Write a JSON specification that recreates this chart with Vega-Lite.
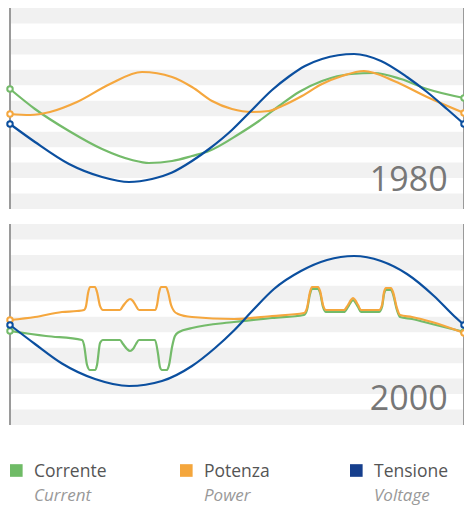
{
 "$schema": "https://vega.github.io/schema/vega-lite/v6.json",
 "padding": {"left": 3, "top": 7, "right": 0, "bottom": 0},
 "bounds": "flush",
 "spacing": 15,
 "background": "white",
 "config": {"view": {"stroke": null}, "font": "Open Sans"},
 "resolve": {"scale": {"x": "independent", "y": "independent", "color": "independent", "stroke": "independent"}},
 "datasets": {
  "strisce": [{"da":85.0,"a":100.5},{"da":54.1,"a":69.6},{"da":23.2,"a":38.7},{"da":-7.7,"a":7.7},{"da":-38.7,"a":-23.2},{"da":-69.6,"a":-54.1},{"da":-100.5,"a":-85.0}],
  "bordi": [{"fase":0},{"fase":360}],
  "anni": [{"anno":"1980"},{"anno":"2000"}],
  "legenda": [{"serie":"Corrente","inglese":"Current"},{"serie":"Potenza","inglese":"Power"},{"serie":"Tensione","inglese":"Voltage"}],
  "linee": [
   {"anno":1980,"serie":"Corrente","fase":0,"valore":19.5},
   {"anno":1980,"serie":"Corrente","fase":19.8,"valore":-0.5},
   {"anno":1980,"serie":"Corrente","fase":46.8,"valore":-22.5},
   {"anno":1980,"serie":"Corrente","fase":73.0,"valore":-40.5},
   {"anno":1980,"serie":"Corrente","fase":96.7,"valore":-51.5},
   {"anno":1980,"serie":"Corrente","fase":110.2,"valore":-54.5},
   {"anno":1980,"serie":"Corrente","fase":128.5,"valore":-52.5},
   {"anno":1980,"serie":"Corrente","fase":144.3,"valore":-47.5},
   {"anno":1980,"serie":"Corrente","fase":157.8,"valore":-42.5},
   {"anno":1980,"serie":"Corrente","fase":181.6,"valore":-25.5},
   {"anno":1980,"serie":"Corrente","fase":197.4,"valore":-12.5},
   {"anno":1980,"serie":"Corrente","fase":213.3,"valore":2.5},
   {"anno":1980,"serie":"Corrente","fase":229.2,"valore":16.5},
   {"anno":1980,"serie":"Corrente","fase":247.4,"valore":27.5},
   {"anno":1980,"serie":"Corrente","fase":270.4,"valore":34.5},
   {"anno":1980,"serie":"Corrente","fase":288.6,"valore":35.5},
   {"anno":1980,"serie":"Corrente","fase":310.0,"valore":29.5},
   {"anno":1980,"serie":"Corrente","fase":330.7,"valore":19.5},
   {"anno":1980,"serie":"Corrente","fase":360,"valore":10.5},
   {"anno":1980,"serie":"Potenza","fase":0,"valore":-5.5},
   {"anno":1980,"serie":"Potenza","fase":15.9,"valore":-6.5},
   {"anno":1980,"serie":"Potenza","fase":31.7,"valore":-3.5},
   {"anno":1980,"serie":"Potenza","fase":53.1,"valore":6.5},
   {"anno":1980,"serie":"Potenza","fase":79.3,"valore":24.5},
   {"anno":1980,"serie":"Potenza","fase":104.7,"valore":36.5},
   {"anno":1980,"serie":"Potenza","fase":128.5,"valore":31.5},
   {"anno":1980,"serie":"Potenza","fase":144.3,"valore":21.5},
   {"anno":1980,"serie":"Potenza","fase":160.2,"valore":7.5},
   {"anno":1980,"serie":"Potenza","fase":176.0,"valore":-0.5},
   {"anno":1980,"serie":"Potenza","fase":191.9,"valore":-3.5},
   {"anno":1980,"serie":"Potenza","fase":205.4,"valore":-2.5},
   {"anno":1980,"serie":"Potenza","fase":215.7,"valore":2.5},
   {"anno":1980,"serie":"Potenza","fase":231.5,"valore":12.5},
   {"anno":1980,"serie":"Potenza","fase":247.4,"valore":24.5},
   {"anno":1980,"serie":"Potenza","fase":263.3,"valore":32.5},
   {"anno":1980,"serie":"Potenza","fase":280.7,"valore":37.5},
   {"anno":1980,"serie":"Potenza","fase":304.5,"valore":27.5},
   {"anno":1980,"serie":"Potenza","fase":330.7,"valore":11.5},
   {"anno":1980,"serie":"Potenza","fase":360,"valore":-4.5},
   {"anno":1980,"serie":"Tensione","fase":0,"valore":-15.5},
   {"anno":1980,"serie":"Tensione","fase":19.8,"valore":-33.5},
   {"anno":1980,"serie":"Tensione","fase":46.8,"valore":-55.5},
   {"anno":1980,"serie":"Tensione","fase":73.0,"valore":-68.5},
   {"anno":1980,"serie":"Tensione","fase":94.4,"valore":-73.5},
   {"anno":1980,"serie":"Tensione","fase":112.6,"valore":-70.5},
   {"anno":1980,"serie":"Tensione","fase":128.5,"valore":-64},
   {"anno":1980,"serie":"Tensione","fase":144.3,"valore":-52.5},
   {"anno":1980,"serie":"Tensione","fase":157.8,"valore":-40.5},
   {"anno":1980,"serie":"Tensione","fase":176.0,"valore":-21.5},
   {"anno":1980,"serie":"Tensione","fase":189.5,"valore":-4.5},
   {"anno":1980,"serie":"Tensione","fase":207.8,"valore":18.5},
   {"anno":1980,"serie":"Tensione","fase":221.2,"valore":32},
   {"anno":1980,"serie":"Tensione","fase":233.9,"valore":42.5},
   {"anno":1980,"serie":"Tensione","fase":247.4,"valore":49.5},
   {"anno":1980,"serie":"Tensione","fase":272.8,"valore":54.5},
   {"anno":1980,"serie":"Tensione","fase":294.2,"valore":47.5},
   {"anno":1980,"serie":"Tensione","fase":314.8,"valore":31.5},
   {"anno":1980,"serie":"Tensione","fase":330.7,"valore":16.5},
   {"anno":1980,"serie":"Tensione","fase":346.5,"valore":-0.5},
   {"anno":1980,"serie":"Tensione","fase":360,"valore":-15.5},
   {"anno":2000,"serie":"Corrente","fase":0,"valore":-6.5},
   {"anno":2000,"serie":"Corrente","fase":28.5,"valore":-11.5},
   {"anno":2000,"serie":"Corrente","fase":57.1,"valore":-15.5},
   {"anno":2000,"serie":"Corrente","fase":58.7,"valore":-20.5},
   {"anno":2000,"serie":"Corrente","fase":61.1,"valore":-40.5},
   {"anno":2000,"serie":"Corrente","fase":63.4,"valore":-45.5},
   {"anno":2000,"serie":"Corrente","fase":67.4,"valore":-45.5},
   {"anno":2000,"serie":"Corrente","fase":69.0,"valore":-40.5},
   {"anno":2000,"serie":"Corrente","fase":71.4,"valore":-18.5},
   {"anno":2000,"serie":"Corrente","fase":73.7,"valore":-15.5},
   {"anno":2000,"serie":"Corrente","fase":87.2,"valore":-15.5},
   {"anno":2000,"serie":"Corrente","fase":89.6,"valore":-19.5},
   {"anno":2000,"serie":"Corrente","fase":92.8,"valore":-24.5},
   {"anno":2000,"serie":"Corrente","fase":95.2,"valore":-26.5},
   {"anno":2000,"serie":"Corrente","fase":97.5,"valore":-24.5},
   {"anno":2000,"serie":"Corrente","fase":99.9,"valore":-19.5},
   {"anno":2000,"serie":"Corrente","fase":102.3,"valore":-15.5},
   {"anno":2000,"serie":"Corrente","fase":115.0,"valore":-15.5},
   {"anno":2000,"serie":"Corrente","fase":117.4,"valore":-29.5},
   {"anno":2000,"serie":"Corrente","fase":118.9,"valore":-42.5},
   {"anno":2000,"serie":"Corrente","fase":120.5,"valore":-45.5},
   {"anno":2000,"serie":"Corrente","fase":124.5,"valore":-45.5},
   {"anno":2000,"serie":"Corrente","fase":126.1,"valore":-40.5},
   {"anno":2000,"serie":"Corrente","fase":128.5,"valore":-22.5},
   {"anno":2000,"serie":"Corrente","fase":130.8,"valore":-11.5},
   {"anno":2000,"serie":"Corrente","fase":134.0,"valore":-7.5},
   {"anno":2000,"serie":"Corrente","fase":144.3,"valore":-3.5},
   {"anno":2000,"serie":"Corrente","fase":177.6,"valore":2.5},
   {"anno":2000,"serie":"Corrente","fase":207.8,"valore":6.5},
   {"anno":2000,"serie":"Corrente","fase":233.1,"valore":9.5},
   {"anno":2000,"serie":"Corrente","fase":235.5,"valore":14.5},
   {"anno":2000,"serie":"Corrente","fase":237.9,"valore":30.5},
   {"anno":2000,"serie":"Corrente","fase":239.5,"valore":35.5},
   {"anno":2000,"serie":"Corrente","fase":244.3,"valore":35.5},
   {"anno":2000,"serie":"Corrente","fase":245.9,"valore":31.5},
   {"anno":2000,"serie":"Corrente","fase":248.2,"valore":17.5},
   {"anno":2000,"serie":"Corrente","fase":250.6,"valore":12.5},
   {"anno":2000,"serie":"Corrente","fase":264.8,"valore":12.5},
   {"anno":2000,"serie":"Corrente","fase":268.0,"valore":17.5},
   {"anno":2000,"serie":"Corrente","fase":270.4,"valore":22.5},
   {"anno":2000,"serie":"Corrente","fase":272.0,"valore":24.5},
   {"anno":2000,"serie":"Corrente","fase":273.6,"valore":22.5},
   {"anno":2000,"serie":"Corrente","fase":276.0,"valore":17.5},
   {"anno":2000,"serie":"Corrente","fase":278.3,"valore":12.5},
   {"anno":2000,"serie":"Corrente","fase":292.6,"valore":12.5},
   {"anno":2000,"serie":"Corrente","fase":295.0,"valore":17.5},
   {"anno":2000,"serie":"Corrente","fase":296.6,"valore":30.5},
   {"anno":2000,"serie":"Corrente","fase":298.1,"valore":34.5},
   {"anno":2000,"serie":"Corrente","fase":302.1,"valore":34.5},
   {"anno":2000,"serie":"Corrente","fase":303.7,"valore":30.5},
   {"anno":2000,"serie":"Corrente","fase":306.8,"valore":14.5},
   {"anno":2000,"serie":"Corrente","fase":309.3,"valore":7.5},
   {"anno":2000,"serie":"Corrente","fase":318.8,"valore":5.5},
   {"anno":2000,"serie":"Corrente","fase":334.6,"valore":0.5},
   {"anno":2000,"serie":"Corrente","fase":360,"valore":-7.5},
   {"anno":2000,"serie":"Potenza","fase":0,"valore":4.5},
   {"anno":2000,"serie":"Potenza","fase":19.8,"valore":7.5},
   {"anno":2000,"serie":"Potenza","fase":41.2,"valore":12.5},
   {"anno":2000,"serie":"Potenza","fase":53.1,"valore":13.5},
   {"anno":2000,"serie":"Potenza","fase":58.7,"valore":14.5},
   {"anno":2000,"serie":"Potenza","fase":60.3,"valore":18.5},
   {"anno":2000,"serie":"Potenza","fase":61.9,"valore":31.5},
   {"anno":2000,"serie":"Potenza","fase":63.4,"valore":37.5},
   {"anno":2000,"serie":"Potenza","fase":67.4,"valore":37.5},
   {"anno":2000,"serie":"Potenza","fase":69.0,"valore":32.5},
   {"anno":2000,"serie":"Potenza","fase":71.4,"valore":18.5},
   {"anno":2000,"serie":"Potenza","fase":73.7,"valore":14.5},
   {"anno":2000,"serie":"Potenza","fase":87.2,"valore":14.5},
   {"anno":2000,"serie":"Potenza","fase":89.6,"valore":18.5},
   {"anno":2000,"serie":"Potenza","fase":92.8,"valore":23.5},
   {"anno":2000,"serie":"Potenza","fase":95.2,"valore":25.5},
   {"anno":2000,"serie":"Potenza","fase":97.5,"valore":23.5},
   {"anno":2000,"serie":"Potenza","fase":99.9,"valore":18.5},
   {"anno":2000,"serie":"Potenza","fase":102.3,"valore":14.5},
   {"anno":2000,"serie":"Potenza","fase":115.0,"valore":14.5},
   {"anno":2000,"serie":"Potenza","fase":116.6,"valore":19.5},
   {"anno":2000,"serie":"Potenza","fase":118.1,"valore":31.5},
   {"anno":2000,"serie":"Potenza","fase":119.7,"valore":37.5},
   {"anno":2000,"serie":"Potenza","fase":123.7,"valore":37.5},
   {"anno":2000,"serie":"Potenza","fase":125.3,"valore":32.5},
   {"anno":2000,"serie":"Potenza","fase":127.7,"valore":19.5},
   {"anno":2000,"serie":"Potenza","fase":130.0,"valore":13.5},
   {"anno":2000,"serie":"Potenza","fase":133.2,"valore":10.5},
   {"anno":2000,"serie":"Potenza","fase":144.3,"valore":7.5},
   {"anno":2000,"serie":"Potenza","fase":177.6,"valore":5.5},
   {"anno":2000,"serie":"Potenza","fase":207.8,"valore":8.5},
   {"anno":2000,"serie":"Potenza","fase":233.1,"valore":11.5},
   {"anno":2000,"serie":"Potenza","fase":235.5,"valore":16.5},
   {"anno":2000,"serie":"Potenza","fase":237.9,"valore":32.5},
   {"anno":2000,"serie":"Potenza","fase":239.5,"valore":37.5},
   {"anno":2000,"serie":"Potenza","fase":244.3,"valore":37.5},
   {"anno":2000,"serie":"Potenza","fase":245.9,"valore":33.5},
   {"anno":2000,"serie":"Potenza","fase":248.2,"valore":19.5},
   {"anno":2000,"serie":"Potenza","fase":250.6,"valore":14.5},
   {"anno":2000,"serie":"Potenza","fase":264.8,"valore":14.5},
   {"anno":2000,"serie":"Potenza","fase":268.0,"valore":19.5},
   {"anno":2000,"serie":"Potenza","fase":270.4,"valore":24.5},
   {"anno":2000,"serie":"Potenza","fase":272.0,"valore":26.5},
   {"anno":2000,"serie":"Potenza","fase":273.6,"valore":24.5},
   {"anno":2000,"serie":"Potenza","fase":276.0,"valore":19.5},
   {"anno":2000,"serie":"Potenza","fase":278.3,"valore":14.5},
   {"anno":2000,"serie":"Potenza","fase":292.6,"valore":14.5},
   {"anno":2000,"serie":"Potenza","fase":295.0,"valore":19.5},
   {"anno":2000,"serie":"Potenza","fase":296.6,"valore":32.5},
   {"anno":2000,"serie":"Potenza","fase":298.1,"valore":36.5},
   {"anno":2000,"serie":"Potenza","fase":302.1,"valore":36.5},
   {"anno":2000,"serie":"Potenza","fase":303.7,"valore":32.5},
   {"anno":2000,"serie":"Potenza","fase":306.8,"valore":16.5},
   {"anno":2000,"serie":"Potenza","fase":309.3,"valore":9.5},
   {"anno":2000,"serie":"Potenza","fase":318.8,"valore":7.5},
   {"anno":2000,"serie":"Potenza","fase":334.6,"valore":2.5},
   {"anno":2000,"serie":"Potenza","fase":360,"valore":-8.5},
   {"anno":2000,"serie":"Tensione","fase":0,"valore":-0.5},
   {"anno":2000,"serie":"Tensione","fase":19.8,"valore":-19.5},
   {"anno":2000,"serie":"Tensione","fase":41.2,"valore":-39},
   {"anno":2000,"serie":"Tensione","fase":67.4,"valore":-54.5},
   {"anno":2000,"serie":"Tensione","fase":94.4,"valore":-61.5},
   {"anno":2000,"serie":"Tensione","fase":120.5,"valore":-56.5},
   {"anno":2000,"serie":"Tensione","fase":144.3,"valore":-41.5},
   {"anno":2000,"serie":"Tensione","fase":162.6,"valore":-23.5},
   {"anno":2000,"serie":"Tensione","fase":177.6,"valore":-6},
   {"anno":2000,"serie":"Tensione","fase":193.5,"valore":15.5},
   {"anno":2000,"serie":"Tensione","fase":209.3,"valore":35.5},
   {"anno":2000,"serie":"Tensione","fase":230.7,"valore":53.5},
   {"anno":2000,"serie":"Tensione","fase":251.4,"valore":64.5},
   {"anno":2000,"serie":"Tensione","fase":272.8,"valore":68.5},
   {"anno":2000,"serie":"Tensione","fase":294.2,"valore":63.5},
   {"anno":2000,"serie":"Tensione","fase":314.8,"valore":50.5},
   {"anno":2000,"serie":"Tensione","fase":336.2,"valore":28.5},
   {"anno":2000,"serie":"Tensione","fase":352.1,"valore":8.5},
   {"anno":2000,"serie":"Tensione","fase":360,"valore":-0.5}
  ]
 },
 "vconcat": [
  {
   "width": 454, "height": 201,
   "layer": [
    {"data": {"name": "strisce"}, "mark": {"type": "rect", "color": "#f1f1f1"},
     "encoding": {
      "x": {"datum": 0, "type": "quantitative", "scale": {"domain": [0, 360], "nice": false, "zero": false}, "axis": null},
      "x2": {"datum": 360},
      "y": {"field": "da", "type": "quantitative", "scale": {"domain": [-100.5, 100.5], "nice": false, "zero": false}, "axis": null},
      "y2": {"field": "a"}}},
    {"data": {"name": "bordi"}, "mark": {"type": "rule", "color": "#9a9a9a", "strokeWidth": 2},
     "encoding": {"x": {"field": "fase", "type": "quantitative"}}},
    {"data": {"name": "anni"}, "transform": [{"filter": "datum.anno == '1980'"}],
     "mark": {"type": "text", "align": "right", "baseline": "alphabetic", "font": "Open Sans", "fontSize": 34, "color": "#777777"},
     "encoding": {"x": {"datum": 347, "type": "quantitative"}, "y": {"datum": -82.5, "type": "quantitative"}, "text": {"field": "anno", "type": "nominal"}}},
    {"data": {"name": "linee"}, "transform": [{"filter": "datum.anno == 1980"}],
     "mark": {"type": "line", "interpolate": "monotone", "strokeWidth": 2.2},
     "encoding": {
      "x": {"field": "fase", "type": "quantitative"},
      "y": {"field": "valore", "type": "quantitative"},
      "color": {"field": "serie", "type": "nominal", "scale": {"domain": ["Corrente", "Potenza", "Tensione"], "range": ["#74bb6a", "#f5a73e", "#0b4f9f"]}, "legend": null}}},
    {"data": {"name": "linee"}, "transform": [{"filter": "datum.anno == 1980 && (datum.fase == 0 || datum.fase == 360)"}],
     "mark": {"type": "circle", "size": 30, "fill": "white", "strokeWidth": 2, "opacity": 1},
     "encoding": {
      "x": {"field": "fase", "type": "quantitative"},
      "y": {"field": "valore", "type": "quantitative"},
      "stroke": {"field": "serie", "type": "nominal", "scale": {"domain": ["Corrente", "Potenza", "Tensione"], "range": ["#74bb6a", "#f5a73e", "#0b4f9f"]}, "legend": null}}}
   ]
  },
  {
   "width": 454, "height": 201,
   "layer": [
    {"data": {"name": "strisce"}, "mark": {"type": "rect", "color": "#f1f1f1"},
     "encoding": {
      "x": {"datum": 0, "type": "quantitative", "scale": {"domain": [0, 360], "nice": false, "zero": false}, "axis": null},
      "x2": {"datum": 360},
      "y": {"field": "da", "type": "quantitative", "scale": {"domain": [-100.5, 100.5], "nice": false, "zero": false}, "axis": null},
      "y2": {"field": "a"}}},
    {"data": {"name": "bordi"}, "mark": {"type": "rule", "color": "#9a9a9a", "strokeWidth": 2},
     "encoding": {"x": {"field": "fase", "type": "quantitative"}}},
    {"data": {"name": "anni"}, "transform": [{"filter": "datum.anno == '2000'"}],
     "mark": {"type": "text", "align": "right", "baseline": "alphabetic", "font": "Open Sans", "fontSize": 34, "color": "#777777"},
     "encoding": {"x": {"datum": 347, "type": "quantitative"}, "y": {"datum": -85.5, "type": "quantitative"}, "text": {"field": "anno", "type": "nominal"}}},
    {"data": {"name": "linee"}, "transform": [{"filter": "datum.anno == 2000"}],
     "mark": {"type": "line", "interpolate": "monotone", "strokeWidth": 2.2},
     "encoding": {
      "x": {"field": "fase", "type": "quantitative"},
      "y": {"field": "valore", "type": "quantitative"},
      "color": {"field": "serie", "type": "nominal", "scale": {"domain": ["Corrente", "Potenza", "Tensione"], "range": ["#74bb6a", "#f5a73e", "#0b4f9f"]}, "legend": null}}},
    {"data": {"name": "linee"}, "transform": [{"filter": "datum.anno == 2000 && (datum.fase == 0 || datum.fase == 360)"}],
     "mark": {"type": "circle", "size": 30, "fill": "white", "strokeWidth": 2, "opacity": 1},
     "encoding": {
      "x": {"field": "fase", "type": "quantitative"},
      "y": {"field": "valore", "type": "quantitative"},
      "stroke": {"field": "serie", "type": "nominal", "scale": {"domain": ["Corrente", "Potenza", "Tensione"], "range": ["#74bb6a", "#f5a73e", "#0b4f9f"]}, "legend": null}}}
   ]
  },
  {
   "width": 340, "height": 65,
   "data": {"name": "legenda"},
   "layer": [
    {"mark": {"type": "square", "size": 160, "opacity": 1, "xOffset": 6.3},
     "encoding": {
      "x": {"field": "serie", "type": "nominal", "scale": {"type": "point", "padding": 0, "domain": ["Corrente", "Potenza", "Tensione"]}, "axis": null},
      "y": {"value": 30.5},
      "color": {"field": "serie", "type": "nominal", "scale": {"domain": ["Corrente", "Potenza", "Tensione"], "range": ["#6fbb66", "#f4a63c", "#163f8d"]}, "legend": null}}},
    {"mark": {"type": "text", "align": "left", "baseline": "alphabetic", "dx": 24, "font": "Open Sans", "fontSize": 17.5, "color": "#555555"},
     "encoding": {
      "x": {"field": "serie", "type": "nominal"},
      "y": {"value": 37},
      "text": {"field": "serie", "type": "nominal"}}},
    {"mark": {"type": "text", "align": "left", "baseline": "alphabetic", "dx": 24, "font": "Open Sans", "fontSize": 17, "fontStyle": "italic", "color": "#999999"},
     "encoding": {
      "x": {"field": "serie", "type": "nominal"},
      "y": {"value": 60.5},
      "text": {"field": "inglese", "type": "nominal"}}}
   ]
  }
 ]
}
